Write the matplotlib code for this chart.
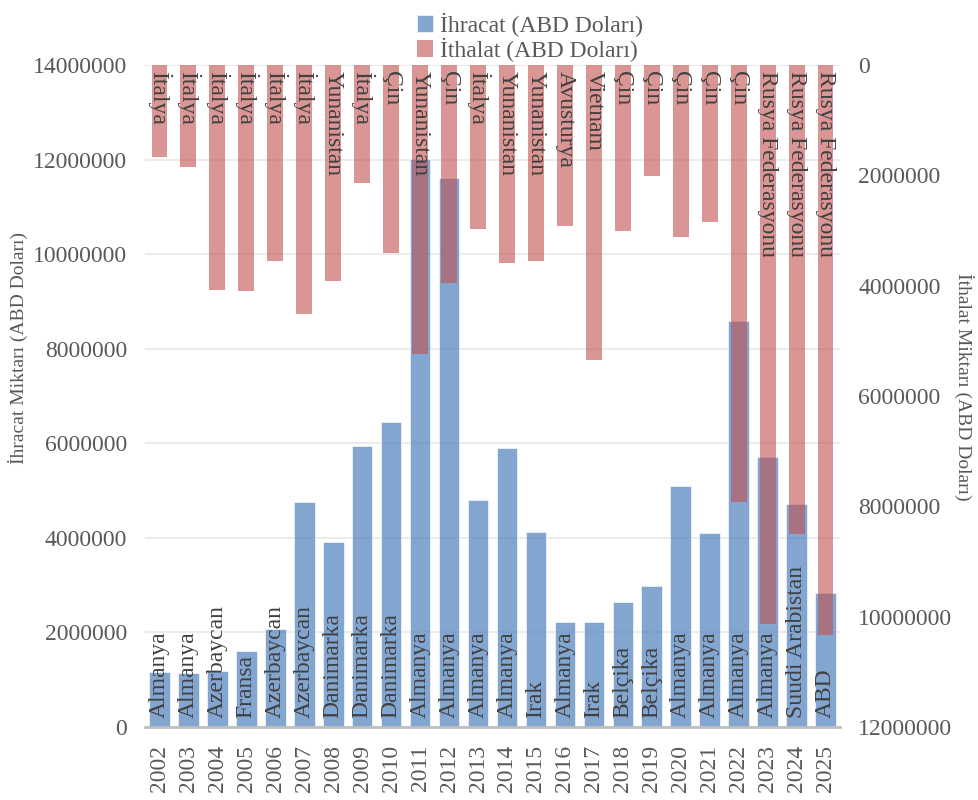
import matplotlib
matplotlib.use("Agg")
import matplotlib.pyplot as plt
import numpy as np

plt.rcParams['font.family'] = ['Liberation Serif', 'DejaVu Serif']

years = ["2002", "2003", "2004", "2005", "2006", "2007", "2008", "2009", "2010", "2011", "2012", "2013",
         "2014", "2015", "2016", "2017", "2018", "2019", "2020", "2021", "2022", "2023", "2024", "2025"]
export_values = [1170000, 1150000, 1180000, 1610000, 2070000, 4760000, 3920000, 5940000, 6450000,
                 12020000, 11600000, 4810000, 5890000, 4120000, 2210000, 2220000, 2650000, 2980000,
                 5090000, 4100000, 8580000, 5700000, 4710000, 2830000]
import_values = [1660000, 1840000, 4070000, 4100000, 3550000, 4520000, 3920000, 2140000, 3400000,
                 5240000, 3950000, 2970000, 3590000, 3560000, 2920000, 5340000, 3010000, 2020000,
                 3110000, 2840000, 7920000, 10130000, 8500000, 10330000]
export_countries = ["Almanya", "Almanya", "Azerbaycan", "Fransa", "Azerbaycan", "Azerbaycan", "Danimarka",
                    "Danimarka", "Danimarka", "Almanya", "Almanya", "Almanya", "Almanya", "Irak",
                    "Almanya", "Irak", "Belçika", "Belçika", "Almanya", "Almanya", "Almanya", "Almanya",
                    "Suudi Arabistan", "ABD"]
import_countries = ["İtalya", "İtalya", "İtalya", "İtalya", "İtalya", "İtalya", "Yunanistan", "İtalya",
                    "Çin", "Yunanistan", "Çin", "İtalya", "Yunanistan", "Yunanistan", "Avusturya",
                    "Vietnam", "Çin", "Çin", "Çin", "Çin", "Çin", "Rusya Federasyonu",
                    "Rusya Federasyonu", "Rusya Federasyonu"]

blue = "#4F81BD"
red = "#C0504D"
tick_color = "#595959"
label_color = "#404040"
fs = 17

fig = plt.figure(figsize=(9.79, 8.0), dpi=100)
ax = fig.add_axes([145/979, 1 - 727/800, 695/979, 662/800])
x = np.arange(len(years))

b1 = ax.bar(x, export_values, width=0.71, color=blue, alpha=0.7, edgecolor="white", linewidth=0.6,
            label="İhracat (ABD Doları)", zorder=2)
ax.set_ylim(0, 14000000)
ax.set_yticks(np.arange(0, 14000001, 2000000))
ax.set_yticklabels([f"{v:d}" for v in range(0, 14000001, 2000000)])
ax.set_xlim(-0.5, len(years) - 0.5)
ax.set_xticks(x)
ax.set_xticklabels(years, rotation=90)
ax.grid(axis='y', color="#ececec", linewidth=1.5, zorder=0)
ax.set_axisbelow(True)
for s in ["top", "right", "left"]:
    ax.spines[s].set_visible(False)
ax.spines["bottom"].set_color("#bfbfbf")
ax.spines["bottom"].set_linewidth(2)
ax.tick_params(axis='both', length=0, labelsize=fs, colors=tick_color)
ax.tick_params(axis='y', pad=13)
ax.tick_params(axis='x', pad=13)

for xi, name in zip(x, export_countries):
    ax.annotate(name, (xi, 0), xytext=(0, 6.5), textcoords="offset points", rotation=90,
                ha="center", va="bottom", fontsize=fs, color=label_color, zorder=5)

ax2 = ax.twinx()
b2 = ax2.bar(x, import_values, width=0.55, color=red, alpha=0.6, label="İthalat (ABD Doları)", zorder=2)
ax2.set_ylim(12000000, 0)
ax2.set_yticks(np.arange(0, 12000001, 2000000))
ax2.set_yticklabels([f"{v:d}" for v in range(0, 12000001, 2000000)])
for s in ["top", "right", "left", "bottom"]:
    ax2.spines[s].set_visible(False)
ax2.tick_params(axis='y', length=0, labelsize=fs, colors=tick_color, pad=13)

for xi, name in zip(x, import_countries):
    ax2.annotate(name, (xi, 0), xytext=(0, -4.5), textcoords="offset points", rotation=270,
                 ha="center", va="top", fontsize=fs, color=label_color, zorder=5)

fig.text(18/979, 1 - 348/800, "İhracat Miktarı (ABD Doları)", rotation=90, ha="center", va="center",
         fontsize=14, color=tick_color)
fig.text(964/979, 1 - 387/800, "İthalat Miktarı (ABD Doları)", rotation=270, ha="center", va="center",
         fontsize=14, color=tick_color)

leg = fig.legend(handles=[b1, b2], loc="upper center", bbox_to_anchor=(530/979, 1.005), ncol=1,
                 frameon=False, fontsize=fs, handlelength=0.7, handleheight=0.7, handletextpad=0.3,
                 labelspacing=0.05, borderpad=0.2)
for t in leg.get_texts():
    t.set_color(tick_color)

fig.savefig("out.png", dpi=100)
